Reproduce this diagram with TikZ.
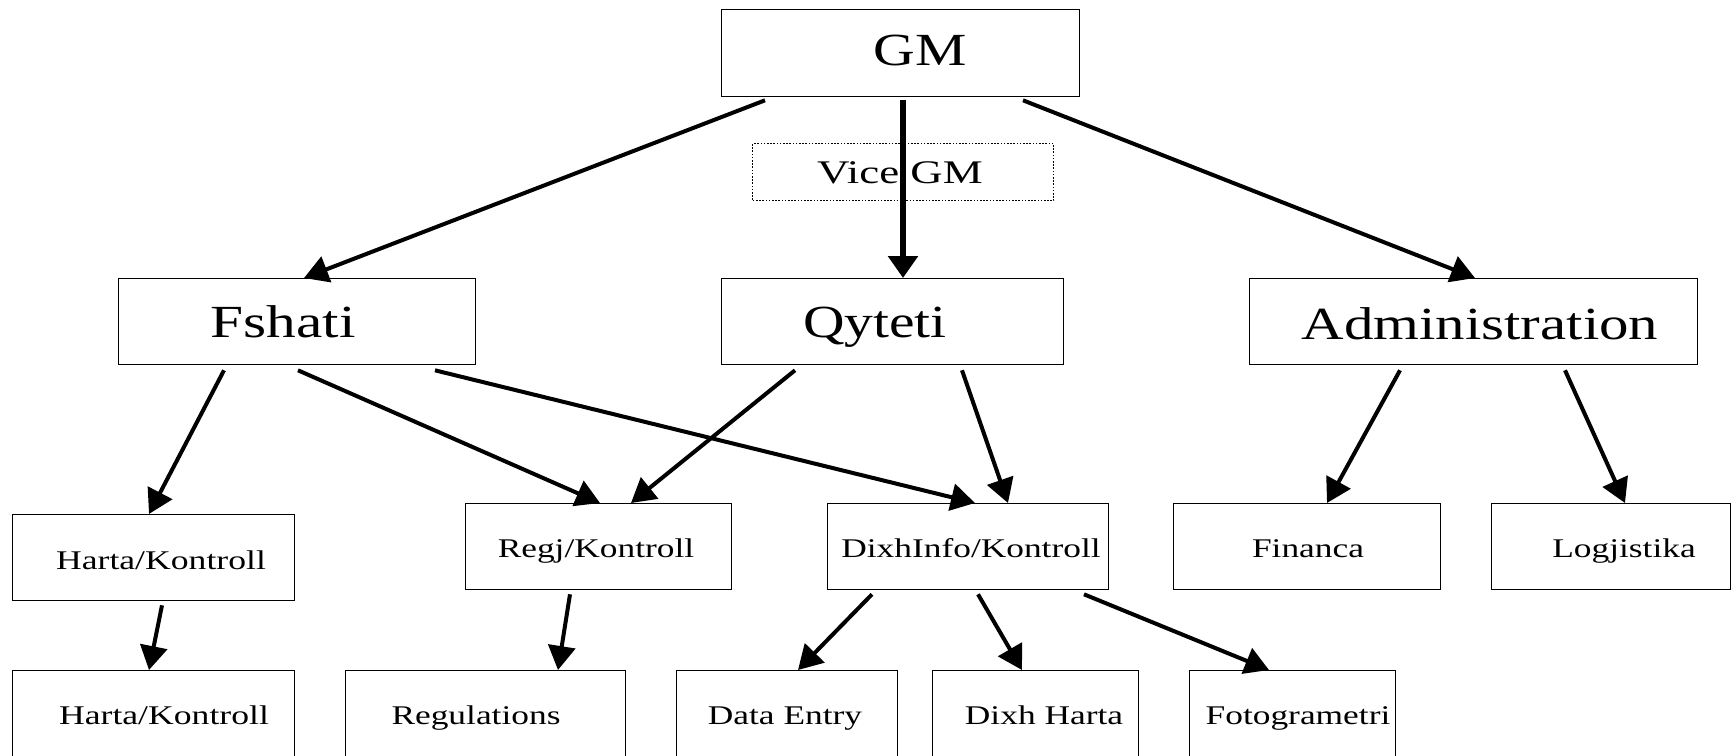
\documentclass[tikz,border=0pt]{standalone}
\usepackage{fontspec}
\setmainfont{Liberation Serif}
\usepackage{graphicx}
\usetikzlibrary{arrows.meta}
\tikzset{
  box/.style={draw, line width=1.3pt, inner sep=0pt, anchor=north west},
  dotbox/.style={draw, line width=1.4pt, dash pattern=on 1.6pt off 1.6pt, inner sep=0pt, anchor=north west},
  bigtxt/.style={anchor=base, inner sep=0pt, font=\fontsize{46}{50}\selectfont},
  smalltxt/.style={anchor=base, inner sep=0pt, font=\fontsize{27}{30}\selectfont},
  vicetxt/.style={anchor=base, inner sep=0pt, font=\fontsize{33}{36}\selectfont},
  conn/.style={line width=4pt, -{Triangle[length=24pt,width=27pt]}},
  thickconn/.style={line width=6.5pt, -{Triangle[length=22pt,width=29pt]}},
}
\newcommand{\stx}[2]{\scalebox{#1}[1]{#2}}
\newcommand{\bx}[5]{\node[box, minimum width=#4pt, minimum height=#5pt] (#1) at (#2,#3) {};}
\begin{document}
\begin{tikzpicture}[x=1pt,y=-1pt]
\path[use as bounding box] (0,0) rectangle (1732,755);
\clip (0,0) rectangle (1732,755);
\fill[white] (0,0) rectangle (1732,755);

% boxes
\bx{gm}{721}{9}{358}{87}
\node[dotbox, minimum width=301pt, minimum height=57pt] (vice) at (752,143) {};
\bx{fsh}{118}{278}{357}{86}
\bx{qyt}{721}{278}{342}{86}
\bx{adm}{1249}{278}{448}{86}
\bx{har1}{12}{514}{282}{86}
\bx{regj}{465}{503}{266}{86}
\bx{dix}{827}{503}{281}{86}
\bx{fin}{1173}{503}{267}{86}
\bx{log}{1491}{503}{239}{86}
\bx{har2}{12}{670}{282}{92}
\bx{reg}{345}{670}{280}{92}
\bx{dat}{676}{670}{221}{92}
\bx{dxh}{932}{670}{206}{92}
\bx{fot}{1189}{670}{206}{92}

% texts
\node[bigtxt] (gmt) at (920,65) {\stx{1.255}{GM}};
\node[vicetxt] (vicet) at (900,183) {\stx{1.36}{Vice GM}};
\node[bigtxt] (fsht) at (283,337) {\stx{1.29}{Fshati}};
\node[bigtxt] (qytt) at (875,337) {\stx{1.25}{Qyteti}};
\node[bigtxt] (admt) at (1480,339) {\stx{1.28}{Administration}};
\node[smalltxt] (har1t) at (161,569) {\stx{1.32}{Harta/Kontroll}};
\node[smalltxt] (regjt) at (596,557) {\stx{1.31}{Regj/Kontroll}};
\node[smalltxt] (dixt) at (971,557) {\stx{1.31}{DixhInfo/Kontroll}};
\node[smalltxt] (fint) at (1308,557) {\stx{1.31}{Financa}};
\node[smalltxt] (logt) at (1624,557) {\stx{1.31}{Logjistika}};
\node[smalltxt] (har2t) at (164,724) {\stx{1.32}{Harta/Kontroll}};
\node[smalltxt] (regt) at (476,724) {\stx{1.31}{Regulations}};
\node[smalltxt] (datt) at (785,724) {\stx{1.31}{Data Entry}};
\node[smalltxt] (dxht) at (1044,724) {\stx{1.31}{Dixh Harta}};
\node[smalltxt] (fott) at (1298,724) {\stx{1.31}{Fotogrametri}};

% connectors
\draw[conn] ([xshift=44pt,yshift=-3pt]gm.south west) -- ([xshift=186pt]fsh.north west);
\draw[thickconn] ([xshift=182pt,yshift=-3pt]gm.south west) -- ([xshift=182pt]qyt.north west);
\draw[conn] ([xshift=302pt,yshift=-3pt]gm.south west) -- ([xshift=226pt]adm.north west);

\draw[conn] ([xshift=106pt,yshift=-5pt]fsh.south west) -- ([xshift=137pt]har1.north west);
\draw[conn] ([xshift=180pt,yshift=-5pt]fsh.south west) -- ([xshift=135pt]regj.north west);
\draw[conn] ([xshift=317pt,yshift=-5pt]fsh.south west) -- ([xshift=148pt]dix.north west);
\draw[conn] ([xshift=74pt,yshift=-5pt]qyt.south west) -- ([xshift=166pt]regj.north west);
\draw[conn] ([xshift=241pt,yshift=-5pt]qyt.south west) -- ([xshift=181pt]dix.north west);
\draw[conn] ([xshift=151pt,yshift=-5pt]adm.south west) -- ([xshift=154pt]fin.north west);
\draw[conn] ([xshift=316pt,yshift=-5pt]adm.south west) -- ([xshift=134pt]log.north west);

\draw[conn] ([xshift=150pt,yshift=-4pt]har1.south west) -- ([xshift=137pt]har2.north west);
\draw[conn] ([xshift=105pt,yshift=-4pt]regj.south west) -- ([xshift=213pt]reg.north west);
\draw[conn] ([xshift=45pt,yshift=-4pt]dix.south west) -- ([xshift=122pt]dat.north west);
\draw[conn] ([xshift=151pt,yshift=-4pt]dix.south west) -- ([xshift=90pt]dxh.north west);
\draw[conn] ([xshift=257pt,yshift=-4pt]dix.south west) -- ([xshift=80pt]fot.north west);
\end{tikzpicture}
\end{document}
